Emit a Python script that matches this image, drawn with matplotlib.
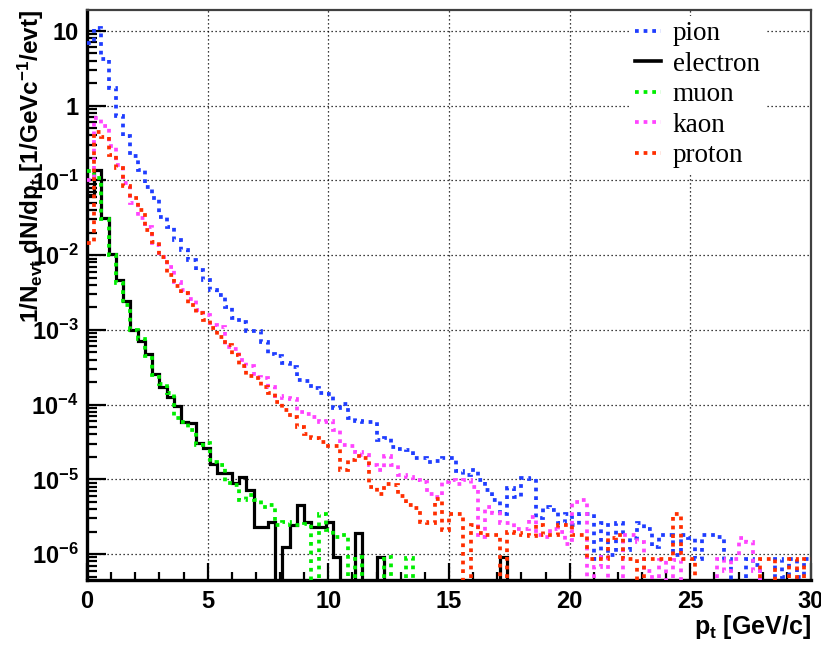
import numpy as np
import matplotlib
matplotlib.use("Agg")
import matplotlib.pyplot as plt
from matplotlib.lines import Line2D
from matplotlib.ticker import FixedLocator, FixedFormatter, MultipleLocator, LogLocator, NullFormatter

plt.rcParams['font.family'] = ['Liberation Sans', 'DejaVu Sans']
plt.rcParams['font.weight'] = 'bold'
plt.rcParams['axes.labelweight'] = 'bold'
plt.rcParams['mathtext.fontset'] = 'custom'
plt.rcParams['mathtext.rm'] = 'Liberation Sans:bold'
plt.rcParams['mathtext.bf'] = 'Liberation Sans:bold'
plt.rcParams['mathtext.it'] = 'Liberation Sans:bold'
plt.rcParams['mathtext.default'] = 'rm'

# ---------------- data (log10 of 1/Nevt dN/dpt per 0.3 GeV/c bin, None = empty bin) -------------
pt_min, pt_max, n_bins = 0.0, 30.0, 100

pion_log10 = [0.84, 1.036, 0.621, 0.233, -0.138, -0.406, -0.673, -0.861, -1.084, -1.24,
              -1.486, -1.62, -1.798, -1.93, -2.066, -2.2, -2.33, -2.47, -2.53, -2.69,
              -2.84, -2.89, -3.01, -3.02, -3.16, -3.32, -3.35, -3.45, -3.5, -3.67,
              -3.69, -3.78, -3.85, -3.86, -4.05, -3.99, -4.18, -4.22, -4.23, -4.23,
              -4.47, -4.45, -4.57, -4.60, -4.61, -4.71, -4.72, -4.77, -4.76, -4.71,
              -4.71, -4.89, -4.94, -4.88, -5.01, -5.14, -5.28, -5.46, -5.11, -5.23,
              -4.98, -5.0, -5.52, -5.37, -5.41, -5.59, -5.46, -5.61, -5.46, -5.46,
              -6.06, -5.59, -6.01, -5.59, -5.95, -5.79, -5.59, -5.66, -5.90, -5.75,
              -5.75, -6.01, -5.75, -5.79, -6.06, -5.75, -5.75, -5.77, -6.06, None,
              None, -6.06, -6.15, None, None, -6.06, -6.3, -6.06, -6.3, -6.06]

electron_log10 = [-1.2, -0.86, -1.51, -1.98, -2.33, -2.62, -3.0, -3.15, -3.32, -3.59,
                  -3.76, -3.90, -4.02, -4.23, -4.24, -4.51, -4.58, -4.79, -4.92, -4.92,
                  -5.05, -4.97, -5.14, -5.64, -5.64, -5.57, None, -5.90, -5.61, -5.35,
                  -5.57, -5.64, -5.64, -5.57, -6.04, None, None, -5.72, None, None,
                  -6.04, None, None, None, None, None, None, None, None, None,
                  None, None, None, None, None, None, None, -6.04, None, None,
                  None, None, None, None, None, None, None, None, None, None,
                  None, None, None, None, None, None, None, None, None, None,
                  None, None, None, None, None, None, None, None, None, None,
                  None, None, None, None, None, None, None, None, None, None]

muon_log10 = [-0.88, -0.97, -1.52, -2.0, -2.38, -2.67, -3.0, -3.12, -3.35, -3.61,
              -3.72, -3.85, -4.18, -4.23, -4.34, -4.54, -4.52, -4.77, -4.81, -5.05,
              -5.07, -5.28, -5.21, -5.28, -5.37, -5.35, -5.61, -5.57, -5.61, -5.61,
              -5.60, None, -5.46, -5.68, -5.77, -5.75, None, -6.04, None, None,
              None, -6.04, None, None, -6.05, None, None, None, None, None,
              None, None, None, None, None, None, None, None, None, None,
              None, None, None, None, None, None, None, None, None, None,
              None, None, None, None, None, None, None, None, None, None,
              None, None, None, None, None, None, None, None, None, None,
              None, None, None, None, None, None, None, None, None, None]

kaon_log10 = [-1.0, -0.17, -0.27, -0.54, -0.79, -1.04, -1.30, -1.51, -1.62, -1.86,
              -2.02, -2.16, -2.36, -2.47, -2.59, -2.73, -2.80, -2.94, -2.96, -3.23,
              -3.25, -3.40, -3.49, -3.63, -3.65, -3.76, -3.89, -3.91, -3.92, -4.10,
              -4.13, -4.16, -4.23, -4.22, -4.34, -4.54, -4.56, -4.63, -4.68, -4.81,
              -4.88, -4.69, -4.81, -4.94, -4.97, -5.01, -5.03, -5.19, -5.23, -5.03,
              -5.01, -5.06, -5.01, -5.10, -5.77, -5.37, -5.45, -5.59, -5.59, -5.66,
              -5.66, -5.50, -5.75, -5.77, -5.66, -5.70, -5.86, -5.30, -5.28, None,
              -6.17, -6.04, None, None, -5.75, -5.75, -5.84, -6.22, None, -6.08,
              None, -6.08, None, None, None, None, None, -6.06, -6.22, -6.06,
              -5.79, -5.84, -6.22, None, None, None, None, None, None, None]

proton_log10 = [-1.84, -0.36, -0.42, -0.66, -0.84, -1.08, -1.24, -1.40, -1.66, -1.82,
                -2.02, -2.27, -2.41, -2.51, -2.67, -2.78, -2.87, -2.98, -3.10, -3.20,
                -3.34, -3.49, -3.62, -3.65, -3.76, -3.85, -3.96, -4.07, -4.16, -4.30,
                -4.39, -4.45, -4.50, -4.56, -4.56, -4.88, -4.74, -4.69, -4.71, -5.10,
                -5.19, -5.06, -5.08, -5.22, -5.35, -5.39, -5.57, -5.58, -5.26, -5.68,
                -5.46, -5.46, None, -5.61, -5.72, -5.75, -5.75, None, -5.70, -5.72,
                -5.75, -5.76, -5.61, -5.75, -5.74, -5.61, -5.61, -5.75, -5.75, -6.06,
                -6.06, -6.06, -5.79, -5.75, -6.06, -6.06, None, -6.06, -6.06, -6.06,
                -6.06, -5.46, -6.06, -6.06, None, None, None, None, None, None,
                None, None, None, -6.06, -6.06, None, None, -6.06, None, -6.06]

series_names = ['pion', 'electron', 'muon', 'kaon', 'proton']
series_data = [pion_log10, electron_log10, muon_log10, kaon_log10, proton_log10]
series_colors = ['#1f3dff', '#000000', '#00ee00', '#ff44ff', '#ff2e00']
series_solid = [False, True, False, False, False]

ytick_values = [10, 1, 1e-1, 1e-2, 1e-3, 1e-4, 1e-5, 1e-6]
ytick_labels = ['10', '1', '$10^{-1}$', '$10^{-2}$', '$10^{-3}$', '$10^{-4}$', '$10^{-5}$', '$10^{-6}$']

# ---------------- figure ----------------
W, H = 821, 646
fig = plt.figure(figsize=(W / 100, H / 100), dpi=100)
ax = fig.add_axes([87 / W, 1 - 580 / H, (811 - 87) / W, (580 - 10) / H])

edges = np.linspace(pt_min, pt_max, n_bins + 1)
dotted = (0, (1.0, 1.3))

for name, logs, col, solid in zip(series_names, series_data, series_colors, series_solid):
    vals = np.array([10.0 ** v if v is not None else 1e-12 for v in logs])
    if solid:
        ax.stairs(vals, edges, baseline=None, color=col, lw=2.3, zorder=3)
    else:
        ax.stairs(vals, edges, baseline=None, color=col, lw=2.7, linestyle=dotted, zorder=3)

ax.set_xlim(pt_min, pt_max)
ax.set_yscale('log')
ax.set_ylim(4.5e-7, 19)

ax.yaxis.set_major_locator(FixedLocator(ytick_values))
ax.yaxis.set_major_formatter(FixedFormatter(ytick_labels))
ax.yaxis.set_minor_locator(LogLocator(base=10, subs=np.arange(2, 10), numticks=20))
ax.yaxis.set_minor_formatter(NullFormatter())
ax.xaxis.set_major_locator(MultipleLocator(5))
ax.xaxis.set_minor_locator(MultipleLocator(1))

ax.tick_params(axis='both', which='both', direction='in', top=False, right=False, width=1.6, color='black')
ax.tick_params(axis='y', which='major', length=14, pad=6, labelsize=17)
ax.tick_params(axis='y', which='minor', length=7.5)
ax.tick_params(axis='x', which='major', length=12, pad=7, labelsize=17)
ax.tick_params(axis='x', which='minor', length=6)

ax.grid(True, which='major', color='black', linestyle=(0, (1, 2.2)), linewidth=0.9, zorder=1)
ax.set_axisbelow(True)

for s in ['left', 'bottom']:
    ax.spines[s].set_linewidth(2.4)
    ax.spines[s].set_color('black')
for s in ['top', 'right']:
    ax.spines[s].set_linewidth(1.6)
    ax.spines[s].set_color('#404040')

ax.set_xlabel(r'p$_{t}$ [GeV/c]', fontsize=18, fontweight='bold', loc='right', labelpad=0)
ax.set_ylabel(r'1/N$_{evt}$ dN/dp$_{t}$ [1/GeVc$^{-1}$/evt]', fontsize=17.5, fontweight='bold', loc='top')
ax.yaxis.set_label_coords(-0.056, 1.0)

handles = []
for name, col, solid in zip(series_names, series_colors, series_solid):
    if solid:
        handles.append(Line2D([], [], color=col, lw=2.6))
    else:
        handles.append(Line2D([], [], color=col, lw=2.7, linestyle=dotted))
leg = ax.legend(handles, series_names, loc='upper left', bbox_to_anchor=(630 / W, 1 - 16 / H),
                bbox_transform=fig.transFigure, frameon=True, fancybox=False,
                prop={'family': 'Liberation Serif', 'weight': 'normal', 'size': 19.5},
                handlelength=0.95, handletextpad=0.42, labelspacing=0.2, borderpad=0.2,
                borderaxespad=0)
leg.get_frame().set_facecolor('white')
leg.get_frame().set_edgecolor('none')
leg.get_frame().set_alpha(1.0)
leg.set_zorder(5)

fig.savefig('out.png', dpi=100)
